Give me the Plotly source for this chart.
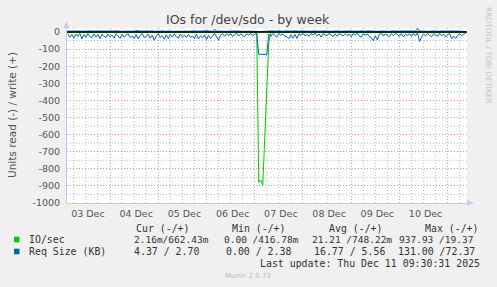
import plotly.graph_objects as go
import pandas as pd

# ---------------- data ----------------
title = "IOs for /dev/sdo - by week"
y_title = "Units read (-) / write (+)"
x_start, x_end = "2025-12-03 02:36", "2025-12-11 09:36"
sample_start, sample_end = "2025-12-03 03:00", "2025-12-11 09:00"

day_labels = ["03 Dec", "04 Dec", "05 Dec", "06 Dec", "07 Dec", "08 Dec", "09 Dec", "10 Dec"]
day_label_times = ["2025-12-03 13:00", "2025-12-04 13:00", "2025-12-05 13:00", "2025-12-06 13:00",
                   "2025-12-07 13:00", "2025-12-08 13:00", "2025-12-09 13:00", "2025-12-10 13:00"]
midnights = ["2025-12-04", "2025-12-05", "2025-12-06", "2025-12-07",
             "2025-12-08", "2025-12-09", "2025-12-10", "2025-12-11"]

y_ticks = [0, -100, -200, -300, -400, -500, -600, -700, -800, -900, -1000]
y_tick_labels = ["0", "-100", "-200", "-300", "-400", "-500", "-600", "-700", "-800", "-900", "-1000"]
y_minor = [-50, -150, -250, -350, -450, -550, -650, -750, -850, -950]

# IO/sec (read plotted negative, write positive), hourly
io_read = [
    1.2, 0.8, 2.1, 1.5, 0.6, 1.9, 1.1, 2.4, 0.9, 1.3,
    1.7, 0.7, 1.4, 2.2, 1.0, 0.8, 1.6, 1.2, 2.0, 0.9,
    1.1, 1.8, 0.7, 1.5, 2.3, 1.0, 1.4, 0.8, 1.9, 1.2,
    0.9, 1.6, 2.5, 1.1, 1.3, 0.7, 2.0, 1.5, 0.8, 1.7,
    1.2, 2.1, 0.9, 3.0, 1.4, 1.0, 1.8, 0.7, 1.6, 1.1,
    2.2, 1.3, 0.8, 1.9, 1.0, 1.5, 0.9, 1.7, 1.2, 0.8,
    1.4, 2.0, 1.1, 0.7, 1.8, 2.4, 1.0, 1.3, 0.9, 2.6,
    1.5, 1.9, 0.8, 1.2, 1.6, 2.8, 1.0, 0.7, 1.3, 0.9,
    1.1, 0.8, 1.4, 1.0, 0.6, 1.2, 0.9, 1.5, 1.1, 0.8,
    1.0, 0.7, 1.3, 0.9, 4.5, 880, 865, 895, 620, 300,
    60, 2.1, 1.0, 1.4, 0.8, 1.2, 0.9, 1.6, 1.1, 0.7,
    2.3, 1.0, 1.8, 0.9, 2.0, 1.2, 0.8, 1.1, 0.6, 1.0,
    1.3, 0.8, 1.1, 0.7, 1.2, 0.9, 1.4, 0.8, 1.0, 1.2,
    0.7, 1.1, 1.3, 0.9, 1.4, 1.0, 0.8, 1.2, 0.9, 1.3,
    0.8, 1.4, 1.0, 0.7, 1.2, 0.9, 1.5, 0.8, 1.1, 1.0,
    1.3, 1.6, 2.9, 1.8, 2.5, 1.2, 0.9, 1.1, 0.8, 1.0,
    1.4, 0.9, 1.1, 0.7, 1.0, 1.3, 0.8, 1.5, 1.0, 0.7,
    1.1, 1.3, 0.9, 1.2, 0.6, 3.1, 1.6, 1.0, 1.2, 0.8,
    1.1, 1.4, 0.9, 0.7, 1.2, 0.8, 1.3, 1.0, 1.5, 1.1,
    0.8, 2.4, 1.5, 2.1, 1.3, 0.9, 1.1, 1.0, 0.002,
]
io_write = [
    0.7, 0.5, 0.9, 0.6, 0.8, 1.1, 0.6, 0.7, 0.9, 0.5,
    0.8, 0.6, 1.0, 0.7, 0.5, 0.9, 0.6, 1.2, 0.7, 0.6,
    0.5, 0.8, 0.7, 0.9, 1.0, 0.6, 0.8, 0.5, 0.7, 0.9,
    1.1, 0.7, 0.6, 0.8, 0.5, 1.3, 0.7, 0.9, 0.6, 0.8,
    0.9, 0.6, 1.0, 0.5, 0.8, 0.7, 0.6, 1.1, 0.5, 0.9,
    0.7, 0.8, 0.6, 0.7, 0.9, 1.2, 0.6, 0.5, 0.8, 0.7,
    0.5, 0.9, 0.7, 1.0, 0.6, 0.8, 0.9, 0.6, 1.4, 0.7,
    0.8, 0.6, 0.5, 3.2, 0.9, 0.7, 0.6, 0.8, 0.7, 0.5,
    0.6, 0.8, 0.5, 0.7, 0.9, 0.6, 0.5, 0.8, 0.7, 0.6,
    0.7, 0.5, 0.8, 0.6, 0.5, 0.4, 0.3, 0.5, 0.4, 0.6,
    0.9, 0.7, 0.5, 0.8, 0.6, 1.0, 0.7, 0.5, 0.8, 0.7,
    0.6, 0.9, 0.7, 1.1, 0.6, 0.5, 0.8, 0.7, 0.5, 0.9,
    0.7, 0.5, 0.8, 0.6, 1.0, 0.7, 0.5, 0.9, 0.6, 0.5,
    0.8, 0.7, 0.5, 1.0, 0.6, 0.9, 0.5, 0.7, 0.8, 0.6,
    0.5, 0.9, 0.7, 0.5, 0.8, 0.6, 1.1, 0.7, 0.5, 0.8,
    0.7, 1.0, 0.6, 0.8, 0.7, 0.5, 0.9, 0.6, 1.0, 0.7,
    0.5, 0.8, 0.6, 0.5, 1.0, 0.7, 0.8, 0.5, 0.6, 0.9,
    0.7, 0.5, 0.8, 0.6, 4.1, 0.9, 0.7, 0.5, 0.8, 0.6,
    0.5, 0.8, 0.7, 1.0, 0.6, 0.5, 0.9, 0.7, 0.5, 0.8,
    0.6, 1.1, 0.5, 0.8, 0.7, 0.5, 0.9, 0.6, 0.66,
]
# Req Size (KB), hourly
req_read = [
    10, 30, 14, 36, 12, 27, 8, 40, 16, 31,
    9, 26, 34, 11, 29, 15, 38, 13, 24, 33,
    12, 28, 17, 35, 10, 25, 37, 14, 30, 19,
    11, 33, 22, 38, 15, 40, 20, 9, 31, 26,
    13, 36, 18, 49, 24, 10, 32, 21, 42, 16,
    38, 14, 30, 11, 27, 35, 12, 29, 18, 33,
    15, 31, 24, 39, 13, 41, 22, 34, 17, 44,
    20, 37, 26, 8, 33, 48, 18, 10, 25, 12,
    22, 9, 27, 14, 7, 24, 11, 20, 28, 10,
    19, 8, 23, 13, 9, 131, 131, 131, 131, 131,
    12, 26, 9, 21, 30, 8, 19, 11, 25, 28,
    40, 17, 36, 14, 38, 10, 20, 8, 23, 13,
    26, 9, 18, 7, 24, 12, 29, 10, 16, 22,
    8, 20, 27, 11, 25, 9, 14, 23, 10, 21,
    13, 28, 9, 19, 7, 24, 30, 10, 18, 12,
    26, 33, 51, 22, 46, 14, 9, 24, 11, 19,
    27, 10, 21, 8, 18, 25, 9, 29, 13, 20,
    11, 26, 8, 22, 6, 55, 31, 12, 23, 9,
    20, 28, 10, 16, 25, 8, 22, 13, 30, 15,
    9, 40, 24, 38, 19, 10, 22, 14, 4.37,
]
req_write = [
    5, 6, 4, 7, 5, 6, 5, 4, 6, 5,
    6, 5, 7, 4, 5, 6, 5, 8, 5, 4,
    5, 6, 4, 5, 7, 5, 6, 4, 5, 6,
    7, 5, 4, 6, 5, 8, 5, 6, 4, 5,
    6, 5, 7, 4, 6, 5, 5, 7, 4, 6,
    5, 6, 4, 5, 6, 7, 5, 4, 6, 5,
    4, 6, 5, 7, 5, 4, 6, 5, 8, 5,
    6, 5, 4, 16, 6, 5, 4, 6, 5, 4,
    5, 6, 4, 5, 6, 5, 4, 6, 5, 4,
    5, 4, 6, 5, 4, 3, 3, 4, 3, 4,
    6, 5, 4, 6, 5, 7, 5, 4, 6, 5,
    4, 6, 5, 7, 5, 4, 6, 5, 4, 6,
    5, 4, 6, 5, 7, 5, 4, 6, 5, 4,
    6, 5, 4, 7, 5, 6, 4, 5, 6, 5,
    4, 6, 5, 4, 6, 5, 7, 5, 4, 6,
    5, 7, 4, 6, 5, 4, 6, 5, 7, 5,
    4, 6, 5, 4, 7, 5, 6, 4, 5, 6,
    5, 4, 6, 5, 22, 6, 5, 4, 6, 5,
    4, 6, 5, 7, 5, 4, 6, 5, 4, 6,
    5, 7, 4, 6, 5, 4, 6, 5, 2.70,
]

legend_header = ["Cur (-/+)", "Min (-/+)", "Avg (-/+)", "Max (-/+)"]
legend_names = ["IO/sec", "Req Size (KB)"]
io_stats = ["2.16m/662.43m", "0.00 /416.78m", "21.21 /748.22m", "937.93 /19.37"]
req_stats = ["4.37 / 2.70", "0.00 / 2.38", "16.77 / 5.56", "131.00 /72.37"]
last_update = "Last update: Thu Dec 11 09:30:31 2025"
munin_version = "Munin 2.0.73"
watermark = "RRDTOOL / TOBI OETIKER"

GREEN = "#00CC00"
BLUE = "#0066B3"

times = pd.date_range(sample_start, sample_end, freq="h")
for s in (io_read, io_write, req_read, req_write):
    assert len(s) == len(times), len(s)

# ---------------- figure ----------------
W, H = 497, 287
ML, MR, MT, MB = 67, 30, 28, 84
PW, PH = W - ML - MR, H - MT - MB


def px(x):
    return (x - ML) / PW


def py(y):
    return (H - MB - y) / PH


fig = go.Figure()
fig.add_trace(go.Scatter(x=times, y=[-v for v in io_read], mode="lines",
                         line=dict(color=GREEN, width=1), hoverinfo="skip"))
fig.add_trace(go.Scatter(x=times, y=io_write, mode="lines",
                         line=dict(color=GREEN, width=1), hoverinfo="skip"))
fig.add_trace(go.Scatter(x=times, y=[-v for v in req_read], mode="lines",
                         line=dict(color=BLUE, width=1), hoverinfo="skip"))
fig.add_trace(go.Scatter(x=times, y=req_write, mode="lines",
                         line=dict(color=BLUE, width=1), hoverinfo="skip"))

RED_GRID = "rgba(230,100,100,0.7)"
GRAY_GRID = "rgba(140,140,140,0.6)"
DOT = "1px,2px"
AXIS_COL = "#C8C8F5"
TXT = "#555555"
SANS = "DejaVu Sans"
MONO = "DejaVu Sans Mono"

fig.update_layout(
    width=W, height=H, margin=dict(l=ML, r=MR, t=MT, b=MB),
    paper_bgcolor="#F0F0F0", plot_bgcolor="#FFFFFF", showlegend=False,
    xaxis=dict(range=[x_start, x_end], tickmode="array", tickvals=midnights,
               showticklabels=False, ticks="", showgrid=True, gridcolor=RED_GRID,
               griddash=DOT, gridwidth=1, zeroline=False,
               showline=True, linecolor=AXIS_COL, linewidth=1),
    xaxis2=dict(range=[x_start, x_end], overlaying="x", anchor="y", side="bottom",
                tickmode="array", tickvals=day_label_times, ticktext=day_labels,
                showgrid=False, zeroline=False, ticks="outside", ticklen=2,
                tickcolor="rgba(0,0,0,0)", tickfont=dict(family=SANS, size=9.5, color=TXT)),
    yaxis=dict(range=[-1000, 23.4], tickmode="array", tickvals=y_ticks, ticktext=y_tick_labels,
               showgrid=True, gridcolor=RED_GRID, griddash=DOT, gridwidth=1,
               zeroline=False, showline=True, linecolor=AXIS_COL, linewidth=1,
               ticks="outside", ticklen=4, tickcolor="rgba(0,0,0,0)",
               tickfont=dict(family=SANS, size=9.5, color=TXT)),
)
# keep x2 axis alive with an invisible trace
fig.add_trace(go.Scatter(x=[x_start], y=[None], xaxis="x2", mode="lines", hoverinfo="skip",
                         showlegend=False))

shapes = []
# minor (6-hour / 50-unit) gray dotted grid
for t in pd.date_range("2025-12-03 06:00", "2025-12-11 06:00", freq="6h"):
    if t.hour == 0:
        continue
    shapes.append(dict(type="line", xref="x", yref="paper", x0=t, x1=t, y0=0, y1=1,
                       line=dict(color=GRAY_GRID, width=1, dash=DOT), layer="below"))
for v in y_minor:
    shapes.append(dict(type="line", xref="paper", yref="y", x0=0, x1=1, y0=v, y1=v,
                       line=dict(color=GRAY_GRID, width=1, dash=DOT), layer="below"))
# black zero rule
shapes.append(dict(type="line", xref="paper", yref="y", x0=0, x1=1, y0=0, y1=0,
                   line=dict(color="#000000", width=1.4), layer="above"))
# axis arrows
ax, ay = px(66.5), py(21)
shapes.append(dict(type="path", xref="paper", yref="paper",
                   path=f"M {px(63.5)} {py(28)} L {ax} {ay} L {px(69.5)} {py(28)} Z",
                   fillcolor=AXIS_COL, line=dict(width=0), layer="above"))
shapes.append(dict(type="path", xref="paper", yref="paper",
                   path=f"M {px(467)} {py(200)} L {px(474)} {py(203)} L {px(467)} {py(206)} Z",
                   fillcolor=AXIS_COL, line=dict(width=0), layer="above"))
# legend squares
for col, yc in ((GREEN, 239.5), (BLUE, 251.5)):
    shapes.append(dict(type="rect", xref="paper", yref="paper",
                       x0=px(14), x1=px(19.5), y0=py(yc - 2.8), y1=py(yc + 2.8),
                       fillcolor=col, line=dict(width=0)))
fig.update_layout(shapes=shapes)

ann = []


def text(x, y, s, size=9.9, family=MONO, color="#333333", xanchor="left", angle=0):
    ann.append(dict(x=px(x), y=py(y), xref="paper", yref="paper", text=s, showarrow=False,
                    xanchor=xanchor, yanchor="middle", textangle=angle,
                    font=dict(family=family, size=size, color=color)))


text(248, 20, title, size=12.5, family=SANS, color="#444444", xanchor="center")
text(12, 115, y_title, size=10.5, family=SANS, color=TXT, xanchor="center", angle=-90)
text(488, 55, watermark, size=7.5, family=SANS, color="#C4C4C4", xanchor="center", angle=90)

hx = [134, 230, 327, 423]
for x, s in zip(hx, legend_header):
    text(x, 228, s)
text(27, 239.5, legend_names[0])
text(27, 251.5, legend_names[1])
row1_x = [132, 222, 310, 397]
for x, s in zip(row1_x, io_stats):
    text(x, 239.5, s, size=9.5)
row2_x = [132, 224, 312, 396]
for x, s in zip(row2_x, req_stats):
    text(x, 251.5, s)
text(482, 263.5, last_update, xanchor="right")
text(248, 276, munin_version, size=7, family=SANS, color="#BBBBBB", xanchor="center")
fig.update_layout(annotations=ann)

fig.write_html("out.html")
